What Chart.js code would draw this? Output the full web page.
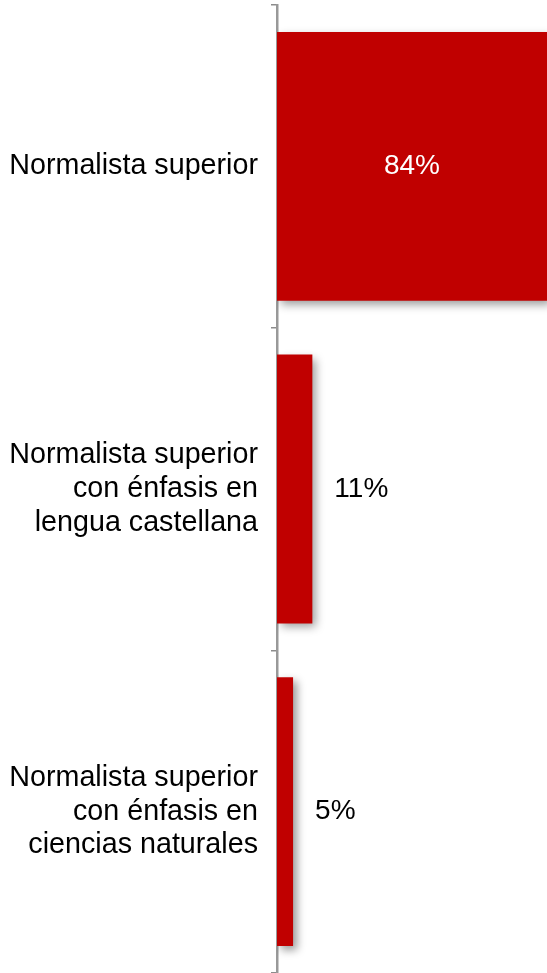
<!DOCTYPE html>
<html>
<head>
<meta charset="utf-8">
<script src="https://cdn.jsdelivr.net/npm/chart.js@4.4.1/dist/chart.umd.min.js"></script>
<style>
  html, body { margin: 0; padding: 0; background: #fff; }
  #wrap { width: 547px; height: 973px; }
</style>
</head>
<body>
<div id="wrap"><canvas id="myChart"></canvas></div>
<script>
var categories = [
  ["Normalista superior"],
  ["Normalista superior", "con énfasis en", "lengua castellana"],
  ["Normalista superior", "con énfasis en", "ciencias naturales"]
];
var values = [84, 11, 5];

var font = "'Liberation Sans', Arial, sans-serif";

// soft drop shadow under the bars
var barShadow = {
  id: 'barShadow',
  beforeDatasetsDraw: function(chart) {
    var c = chart.ctx;
    c.save();
    c.shadowColor = 'rgba(0,0,0,0.4)';
    c.shadowBlur = 9;
    c.shadowOffsetX = 4;
    c.shadowOffsetY = 4;
  },
  afterDatasetsDraw: function(chart) {
    chart.ctx.restore();
  }
};

// percentage labels on / beside the bars
var valueLabels = {
  id: 'valueLabels',
  afterDatasetsDraw: function(chart) {
    var c = chart.ctx;
    var meta = chart.getDatasetMeta(0);
    c.save();
    c.font = '28px ' + font;
    c.textBaseline = 'middle';
    meta.data.forEach(function(bar, i) {
      var txt = values[i] + '%';
      if (values[i] > 50) {
        c.fillStyle = '#ffffff';
        c.textAlign = 'center';
        c.fillText(txt, (bar.x + bar.base) / 2, bar.y);
      } else {
        c.fillStyle = '#000000';
        c.textAlign = 'left';
        c.fillText(txt, bar.x + 22, bar.y);
      }
    });
    c.restore();
  }
};

var ctx = document.getElementById("myChart");
var myChart = new Chart(ctx, {
  type: 'bar',
  data: {
    labels: categories,
    datasets: [{
      data: values,
      backgroundColor: '#C00000',
      borderWidth: 0,
      categoryPercentage: 1,
      barPercentage: 0.833
    }]
  },
  options: {
    indexAxis: 'y',
    responsive: true,
    maintainAspectRatio: false,
    animation: false,
    layout: { padding: { top: 5, bottom: 0, left: 0, right: 0 } },
    plugins: {
      legend: { display: false },
      tooltip: { enabled: false }
    },
    scales: {
      x: {
        display: false,
        min: 0,
        max: 84
      },
      y: {
        afterFit: function(scale) {
          scale.width = 277;
          scale.paddingTop = 0;
          scale.paddingBottom = 0;
        },
        border: { display: true, color: '#999999', width: 2.5 },
        grid: {
          display: true,
          drawOnChartArea: false,
          drawTicks: true,
          tickLength: 6,
          color: '#8c8c8c',
          lineWidth: 1.5
        },
        ticks: {
          color: '#000000',
          padding: 13,
          font: { family: font, size: 28.7, lineHeight: 1.18 }
        }
      }
    }
  },
  plugins: [barShadow, valueLabels]
});
</script>
</body>
</html>
